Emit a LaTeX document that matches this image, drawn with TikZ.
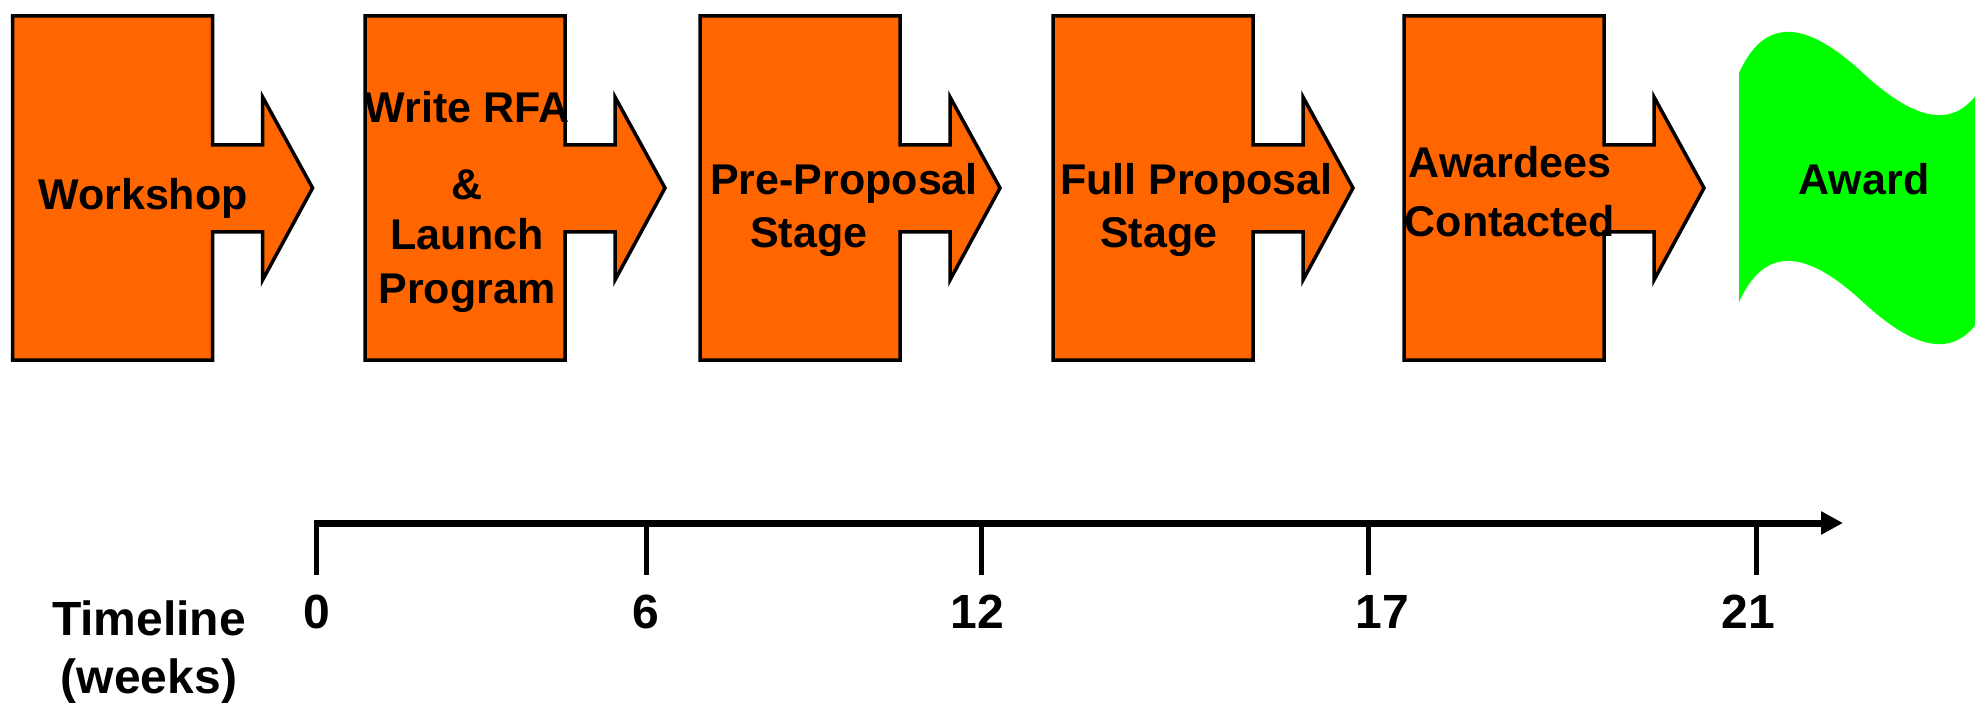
\documentclass[tikz,border=0pt]{standalone}
\usepackage{fontspec}
\setmainfont{Liberation Sans}
\usepackage{xcolor}
\usepackage{tikz}
\usetikzlibrary{arrows.meta}
\usetikzlibrary{positioning}
\definecolor{stageorange}{HTML}{FF6600}
\definecolor{awardgreen}{HTML}{00FF00}
% one block arrow, #1 is its left edge
\newcommand{\stageshape}[1]{%
  \draw[stagebox] (#1,16) -- ++(200,0) -- ++(0,129) -- ++(50,0)
    -- ++(0,-48) -- ++(50,91) -- ++(-50,92) -- ++(0,-48)
    -- ++(-50,0) -- ++(0,128) -- ++(-200,0) -- cycle;}

\begin{document}
\begin{tikzpicture}[x=1pt, y=-1pt,
    stagebox/.style={fill=stageorange, draw=black, line width=3.5pt},
    stagetext/.style={font=\bfseries\fontsize{43}{50}\selectfont, inner sep=0pt},
    weektext/.style={font=\bfseries\fontsize{48}{56}\selectfont, inner sep=0pt, anchor=base},
    axisline/.style={line width=7pt, -{Triangle[length=22pt,width=22pt]}},
    tickline/.style={line width=5pt}]

                \def\lsep{53pt}
                \def\ind{40pt}

                \useasboundingbox (0,0) rectangle (1975,703);

                % block arrows of the stages
                \foreach \l in {12.6,365,700,1053,1404}{\stageshape{\l}}

                % award tape, cut off at the right edge
                \begin{scope}
                    \clip (0,0) rectangle (1975,703);
                    \fill[awardgreen] (1739,73)
                        .. controls (1764,18) and (1804,18) .. (1864,74)
                        .. controls (1924,129) and (1964,129) .. (1989,73)
                        -- (1989,302)
                        .. controls (1964,358) and (1924,358) .. (1864,303)
                        .. controls (1804,247) and (1764,247) .. (1739,302)
                        -- cycle;
                \end{scope}

                % stage labels
                \node[stagetext, anchor=base] (ws) at (143,210) {Workshop};
                \node[stagetext, anchor=base] (rfa1) at (467,123) {Write RFA};
                \node[stagetext, below=77pt of rfa1.base, anchor=base] (rfa2) {\&};
                \node[stagetext, below=50pt of rfa2.base, anchor=base] (rfa3) {Launch};
                \node[stagetext, below=\lsep of rfa3.base, anchor=base] (rfa4) {Program};
                \node[stagetext, anchor=base west] (pp1) at (710,195) {Pre-Proposal};
                \node[stagetext, below right=\lsep and \ind of pp1.base west,
                    anchor=base west] (pp2) {Stage};
                \node[stagetext, anchor=base west] (fp1) at (1060,195) {Full Proposal};
                \node[stagetext, below right=\lsep and \ind of fp1.base west,
                    anchor=base west] (fp2) {Stage};
                \node[stagetext, anchor=base] (ac1) at (1510,178) {Awardees};
                \node[stagetext, below=59pt of ac1.base, anchor=base] (ac2) {Contacted};
                \node[stagetext, anchor=base] (aw) at (1864,195) {Award};

                % timeline
                \coordinate (t0) at (313.5,523);
                \coordinate (tend) at (1843,523);
                \draw[axisline] (t0) -- (tend);
                \foreach \x/\lx/\w [count=\i] in
                    {316/317/0, 646/646/6, 981/977/12, 1368/1382/17, 1756/1748/21}{
                    \coordinate (tick\i) at (\x,523);
                    \coordinate (tickend\i) at (\x,575);
                    \draw[tickline] (tick\i) -- (tickend\i);
                    \node[weektext] (week\i) at (\lx,628) {\w};
                }
                \node[weektext] (tl1) at (149,635) {Timeline};
                \node[weektext, below=58pt of tl1.base, anchor=base] (tl2) {(weeks)};

\end{tikzpicture}
\end{document}
